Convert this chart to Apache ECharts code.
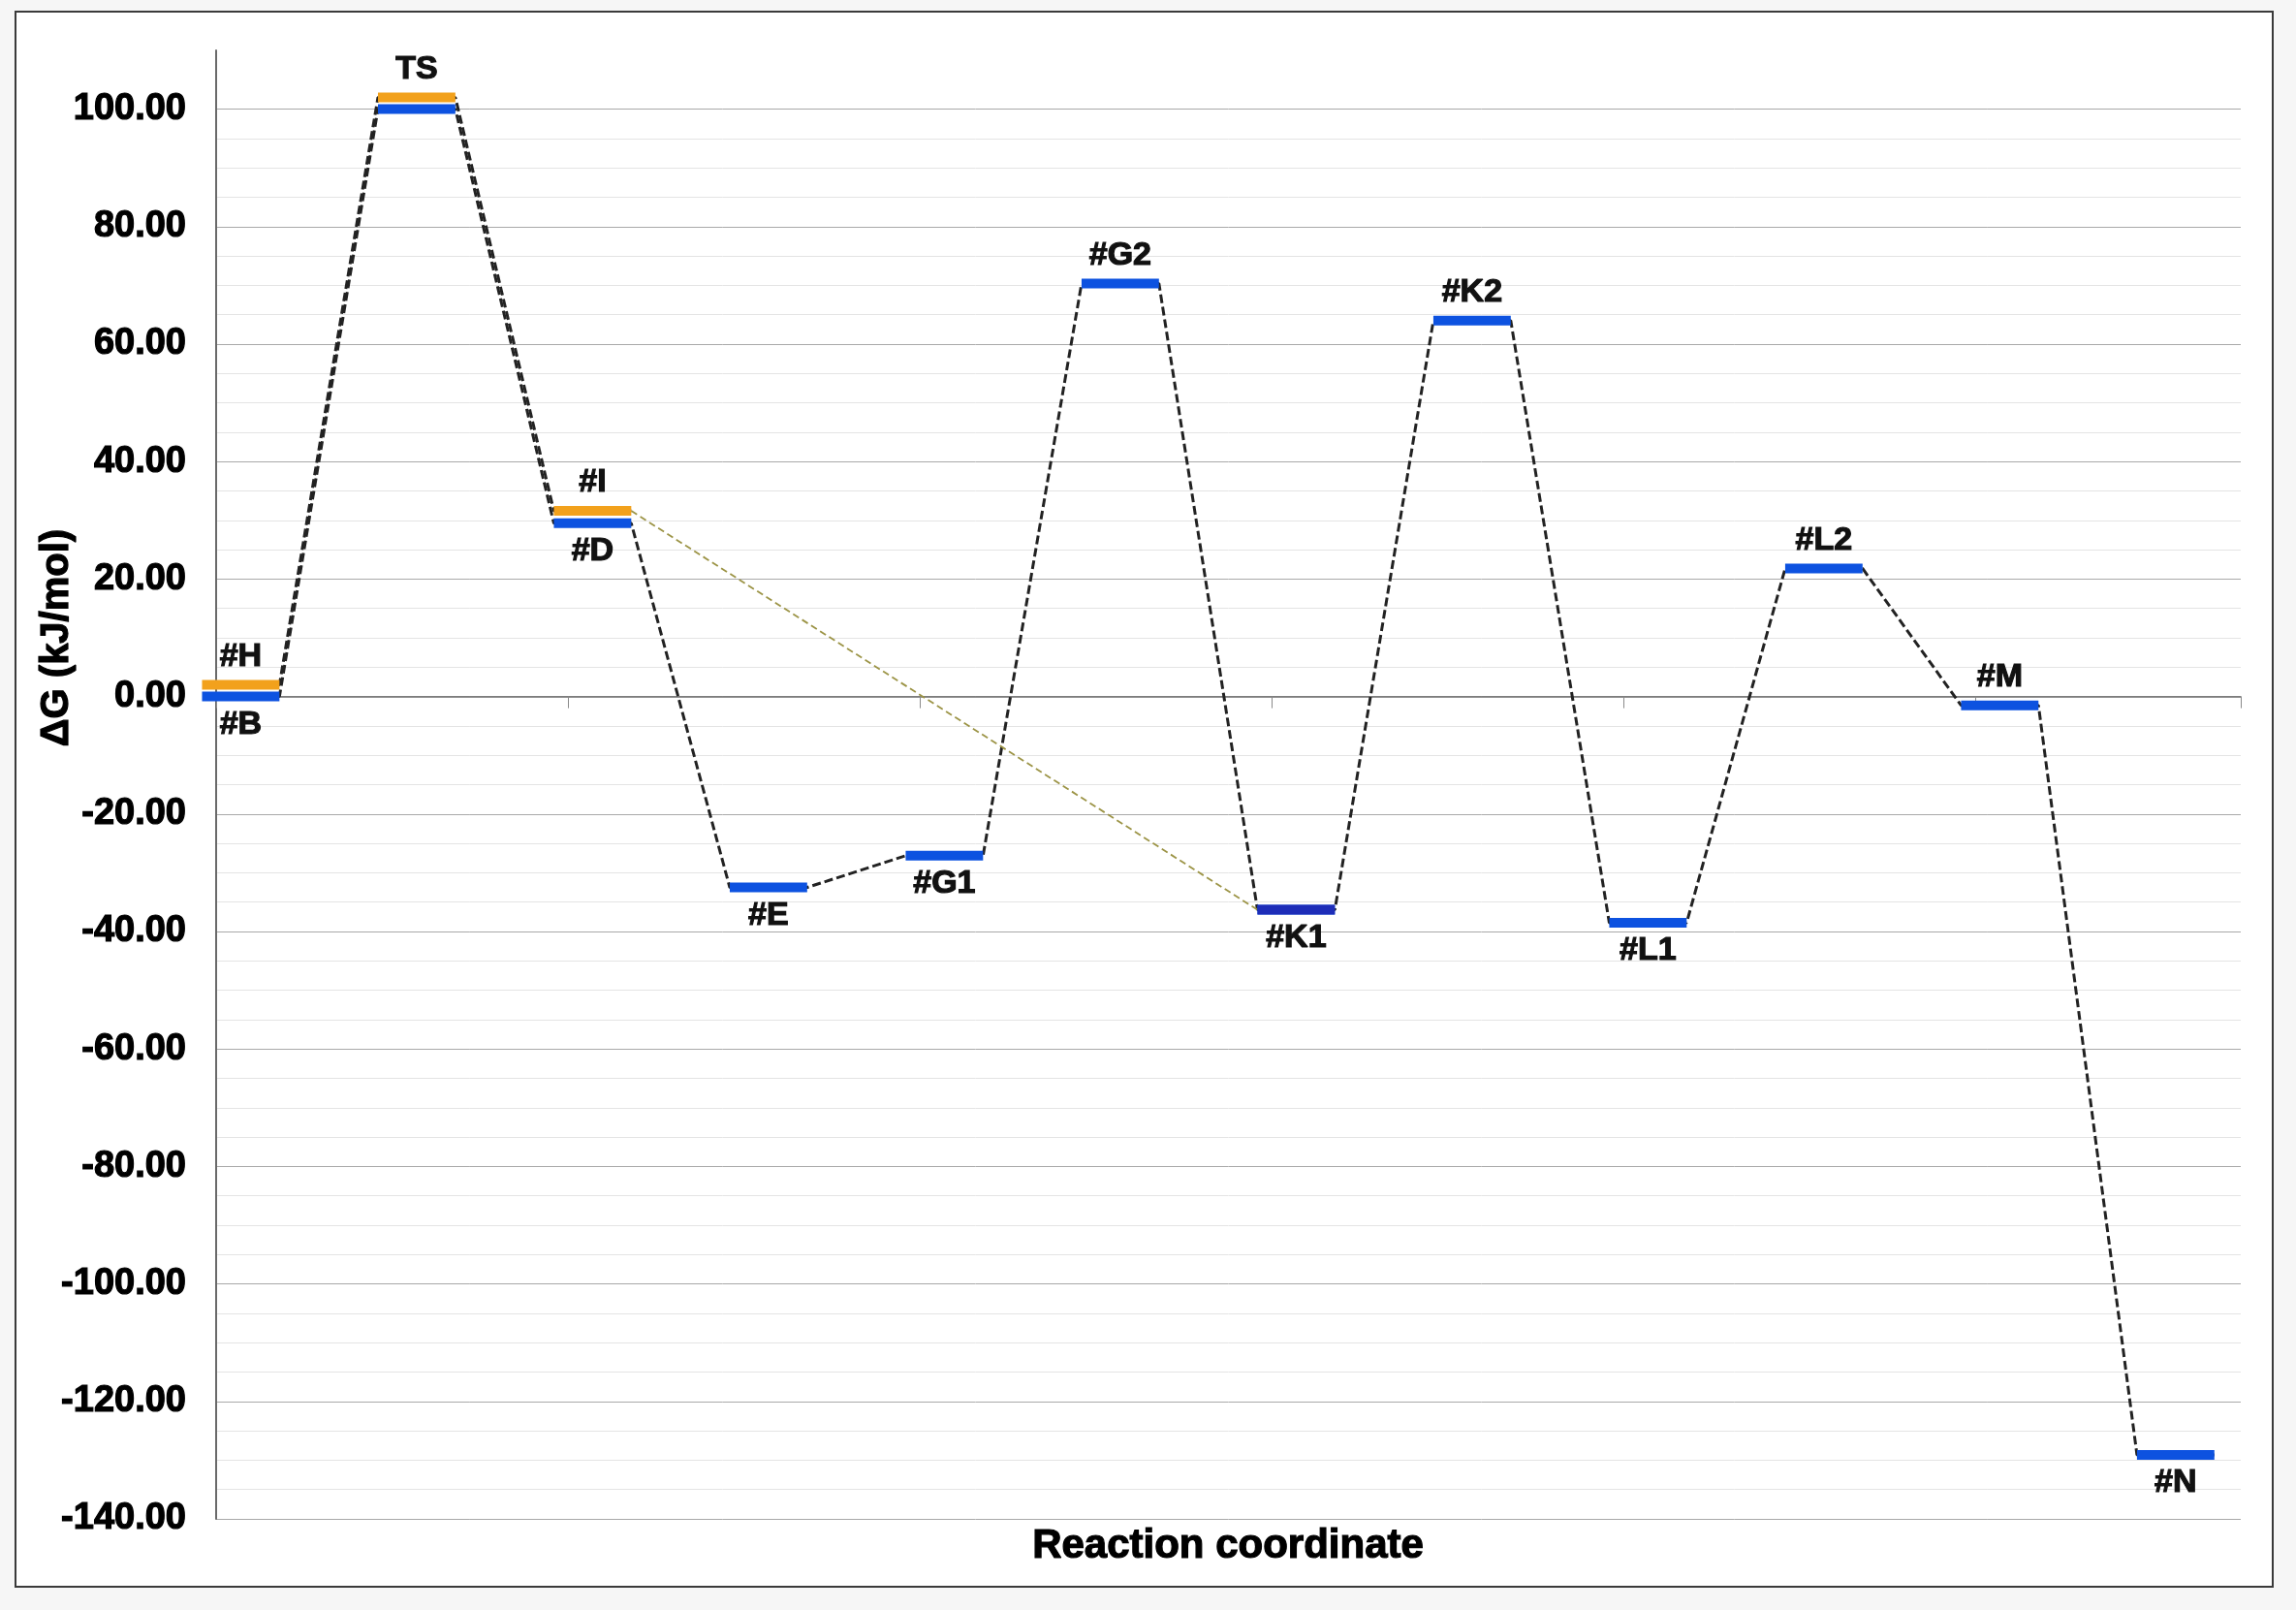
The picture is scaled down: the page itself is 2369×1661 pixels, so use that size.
<!doctype html>
<html>

<head>
    <meta charset="utf-8">
    <title>Reaction coordinate</title>
    <script type="text/javascript" src="https://cdn.jsdelivr.net/npm/echarts@6.0.0/dist/echarts.min.js"></script>
</head>

<body style="margin:0;padding:0;background:#f6f6f6;">
    <div id="chart" style="width:2369px;height:1661px;"></div>
    <script>
        // levels along the reaction coordinate (one step per level)
        var stepNames = ['#B', 'TS', '#D', '#E', '#G1', '#G2', '#K1', '#K2', '#L1', '#L2', '#M', '#N'];
        var pathBValues = [0, 100, 29.5, -32.5, -27.1, 70.3, -36.3, 64.0, -38.5, 21.8, -1.5, -129.1];
        // second (orange) pathway: H -> TS -> I -> K1
        var pathHNames = ['#H', 'TS', '#I', '#K1'];
        var pathHSteps = [0, 1, 2, 6];
        var pathHValues = [2.0, 102.0, 31.6, -36.3];
        // y axis range / ticks
        var yMin = -140, yMax = 110, yMajor = 20, yMinor = 5, yTop = 100;

        var FONT = '"Liberation Sans", Arial, sans-serif';
        var halfW = 0.22;   // half length of a level bar (step units)
        var barH = 10;      // bar thickness px
        var labelGap = 29;  // label centre distance from bar

        var chart = echarts.init(document.getElementById('chart'));

        // gridline colours, one per 5 kJ/mol line: major every 20, nothing above 100
        var gridColors = [];
        for (var v = yMin; v <= yMax; v += yMinor) {
            if (v > yTop) gridColors.push('rgba(0,0,0,0)');
            else if (v % yMajor === 0) gridColors.push('#a9a9a9');
            else gridColors.push('#e4e4e4');
        }

        // endpoints of each level bar, so a polyline runs bar end -> next bar start
        function levelPoints(steps, values) {
            var pts = [];
            for (var i = 0; i < values.length; i++) {
                pts.push([steps[i] - halfW, values[i]]);
                pts.push([steps[i] + halfW, values[i]]);
            }
            return pts;
        }

        function connector(points, color, width, dash) {
            return {
                type: 'line',
                data: points,
                symbol: 'none',
                silent: true,
                z: 3,
                lineStyle: { color: color, width: width, type: dash }
            };
        }

        function levelSeries(steps, values, names, colors, above, hidden) {
            var data = steps.map(function (s, i) { return [s, values[i]]; });
            return {
                type: 'custom',
                z: 5,
                silent: true,
                data: data,
                renderItem: function (params, api) {
                    var i = params.dataIndex;
                    var a = api.coord([api.value(0) - halfW, api.value(1)]);
                    var b = api.coord([api.value(0) + halfW, api.value(1)]);
                    var children = [{
                        type: 'rect',
                        shape: { x: a[0], y: a[1] - barH / 2, width: b[0] - a[0], height: barH },
                        style: { fill: colors[i] }
                    }];
                    if (hidden.indexOf(names[i]) < 0) {
                        var up = above.indexOf(names[i]) >= 0;
                        children.push({
                            type: 'text',
                            x: (a[0] + b[0]) / 2,
                            y: a[1] + (up ? -labelGap : labelGap),
                            style: {
                                text: names[i], fill: '#111',
                                font: 'bold 34px ' + FONT,
                                stroke: '#111', lineWidth: 1.2,
                                align: 'center', verticalAlign: 'middle'
                            }
                        });
                    }
                    return { type: 'group', children: children };
                }
            };
        }

        var stepIdx = stepNames.map(function (n, i) { return i; });
        var bColors = stepNames.map(function () { return '#0d52e0'; });
        var hColors = ['#f2a11c', '#f2a11c', '#f2a11c', '#1e2db8'];
        var hPts = levelPoints(pathHSteps, pathHValues);

        chart.setOption({
            animation: false,
            grid: { left: 223, right: 57, top: 52, bottom: 94 },
            xAxis: {
                type: 'value',
                min: -0.14,
                max: 11.37,
                interval: 2,
                axisLine: { onZero: true, lineStyle: { color: '#6f6f6f', width: 1.5 } },
                axisTick: { show: true, length: 12, lineStyle: { color: '#8a8a8a' } },
                axisLabel: { show: false },
                splitLine: { show: false }
            },
            yAxis: {
                type: 'value',
                min: yMin,
                max: yMax,
                interval: yMinor,
                axisLine: { show: true, onZero: false, lineStyle: { color: '#6a6a6a', width: 2 } },
                axisTick: { show: false },
                axisLabel: {
                    margin: 31,
                    color: '#000',
                    fontSize: 38,
                    fontWeight: 'bold',
                    fontFamily: FONT,
                    textBorderColor: '#000',
                    textBorderWidth: 1.2,
                    formatter: function (v) {
                        return (v % yMajor === 0 && v <= yTop) ? v.toFixed(2) : '';
                    }
                },
                splitLine: { lineStyle: { color: gridColors, width: 1 } }
            },
            graphic: [
                {
                    type: 'rect', z: -1, silent: true,
                    shape: { x: 16, y: 12, width: 2329, height: 1625 },
                    style: { fill: '#fff', stroke: '#3a3a3a', lineWidth: 2 }
                },
                {
                    type: 'text', x: 59, y: 658, rotation: Math.PI / 2,
                    style: {
                        text: 'ΔG (kJ/mol)', fill: '#000', font: 'bold 40px ' + FONT,
                        stroke: '#000', lineWidth: 1.2,
                        align: 'center', verticalAlign: 'middle'
                    }
                },
                {
                    type: 'text', x: 1267, y: 1595,
                    style: {
                        text: 'Reaction coordinate', fill: '#000', font: 'bold 42px ' + FONT,
                        stroke: '#000', lineWidth: 1.2,
                        align: 'center', verticalAlign: 'middle'
                    }
                }
            ],
            series: [
                connector(levelPoints(stepIdx, pathBValues), '#222', 3, [9, 4]),
                connector(hPts.slice(0, 6), '#222', 3, [9, 4]),
                connector(hPts.slice(5, 7), '#9c9446', 1.8, [7, 4]),
                levelSeries(stepIdx, pathBValues, stepNames, bColors,
                    ['#G2', '#K2', '#L2', '#M'], ['TS']),
                levelSeries(pathHSteps, pathHValues, pathHNames, hColors,
                    ['#H', 'TS', '#I'], ['#K1'])
            ]
        });
    </script>
</body>

</html>
